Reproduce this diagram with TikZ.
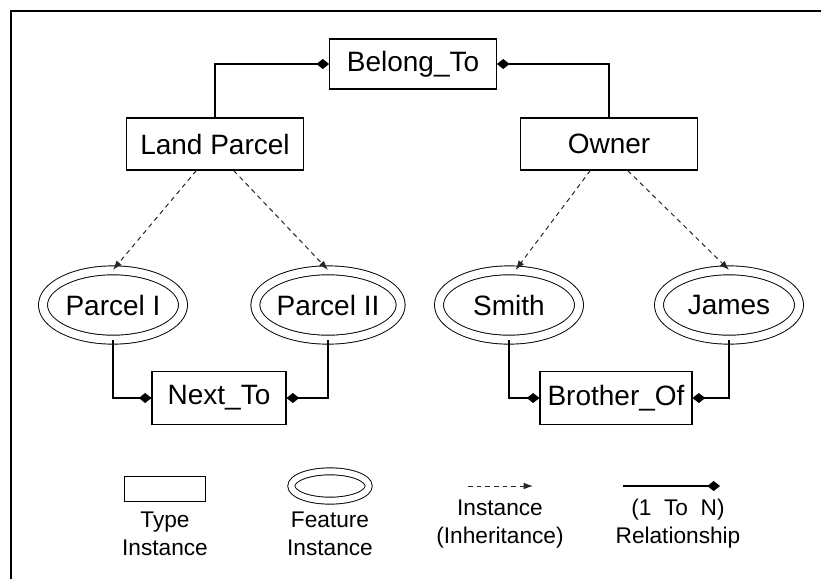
\documentclass[tikz,border=0pt]{standalone}
\usepackage{fontspec}
\setmainfont{Liberation Sans}
\usetikzlibrary{arrows.meta,shapes.geometric}
\tikzset{
  typebox/.style={draw,line width=0.8pt,inner sep=0pt,font=\fontsize{21}{25}\selectfont},
  feature/.style={ellipse,draw,double,double distance=6pt,line width=0.7pt,inner sep=0pt,
    minimum width=105pt,minimum height=52pt,font=\fontsize{21}{25}\selectfont},
  rel/.style={line width=0.8pt,-{Diamond[length=9.5pt,width=7.5pt]}},
  inst/.style={draw=black!85,dash pattern=on 3.5pt off 3pt,line width=0.75pt,
    -{Latex[length=7pt,width=5pt]}},
  legend/.style={align=center,font=\fontsize{17}{21}\selectfont}
}
\begin{document}
\begin{tikzpicture}[x=0.75pt,y=-0.75pt,>=latex]
\useasboundingbox (0,0) rectangle (821,579);
\draw[line width=1.6pt] (11,579)--(11,11)--(821,11);

\node[typebox,minimum width=125pt,minimum height=37.5pt] (belong) at (413,64) {Belong\_To};
\node[typebox,minimum width=133pt,minimum height=39pt] (land) at (215,144) {Land Parcel};
\node[typebox,minimum width=133pt,minimum height=39pt] (owner) at (609,144) {Owner};
\foreach \x/\name/\ntext in {113/parcelI/Parcel I,328/parcelII/Parcel II,509/smith/Smith,729/james/James}
{
    \node[feature] (\name) at (\x,305) {\ntext};
}
\node[typebox,minimum width=100.5pt,minimum height=39.75pt] (next) at (219,398) {Next\_To};
\node[typebox,minimum width=114pt,minimum height=39.75pt] (brother) at (616,398) {Brother\_Of};

\draw[rel] (land.north) |- (belong.west);
\draw[rel] (owner.north) |- (belong.east);
\draw[rel] (parcelI.south) |- (next.west);
\draw[rel] (parcelII.south) |- (next.east);
\draw[rel] (smith.south) |- (brother.west);
\draw[rel] (james.south) |- (brother.east);

\draw[inst] ([xshift=-14pt]land.south) -- (parcelI.north);
\draw[inst] ([xshift=14pt]land.south) -- (parcelII.north);
\draw[inst] ([xshift=-14pt]owner.south) -- ([xshift=5pt]smith.north);
\draw[inst] ([xshift=14pt]owner.south) -- (james.north);

\begin{scope}
\node[draw,line width=0.8pt,minimum width=61pt,minimum height=19pt,inner sep=0pt] (typekey) at (165,489) {};
\node[ellipse,draw,double,double distance=4.5pt,line width=0.7pt,minimum width=58pt,minimum height=22pt,inner sep=0pt] (featkey) at (330,486) {};
\coordinate (insta) at (468,486);
\coordinate (instb) at (533,486);
\coordinate (rela) at (623,486);
\coordinate (relb) at (720,486);
\draw[inst] (insta) -- (instb);
\draw[rel] (rela) -- (relb);
\node[legend] (typetext) at (165,534) {Type\\Instance};
\node[legend] (feattext) at (330,534) {Feature\\Instance};
\node[legend] (insttext) at (500,524) {Instance\\(Inheritance)};
\node[legend] (reltext) at (678,524) {(1~~To~~N)\\Relationship};
\end{scope}

\end{tikzpicture}
\end{document}
